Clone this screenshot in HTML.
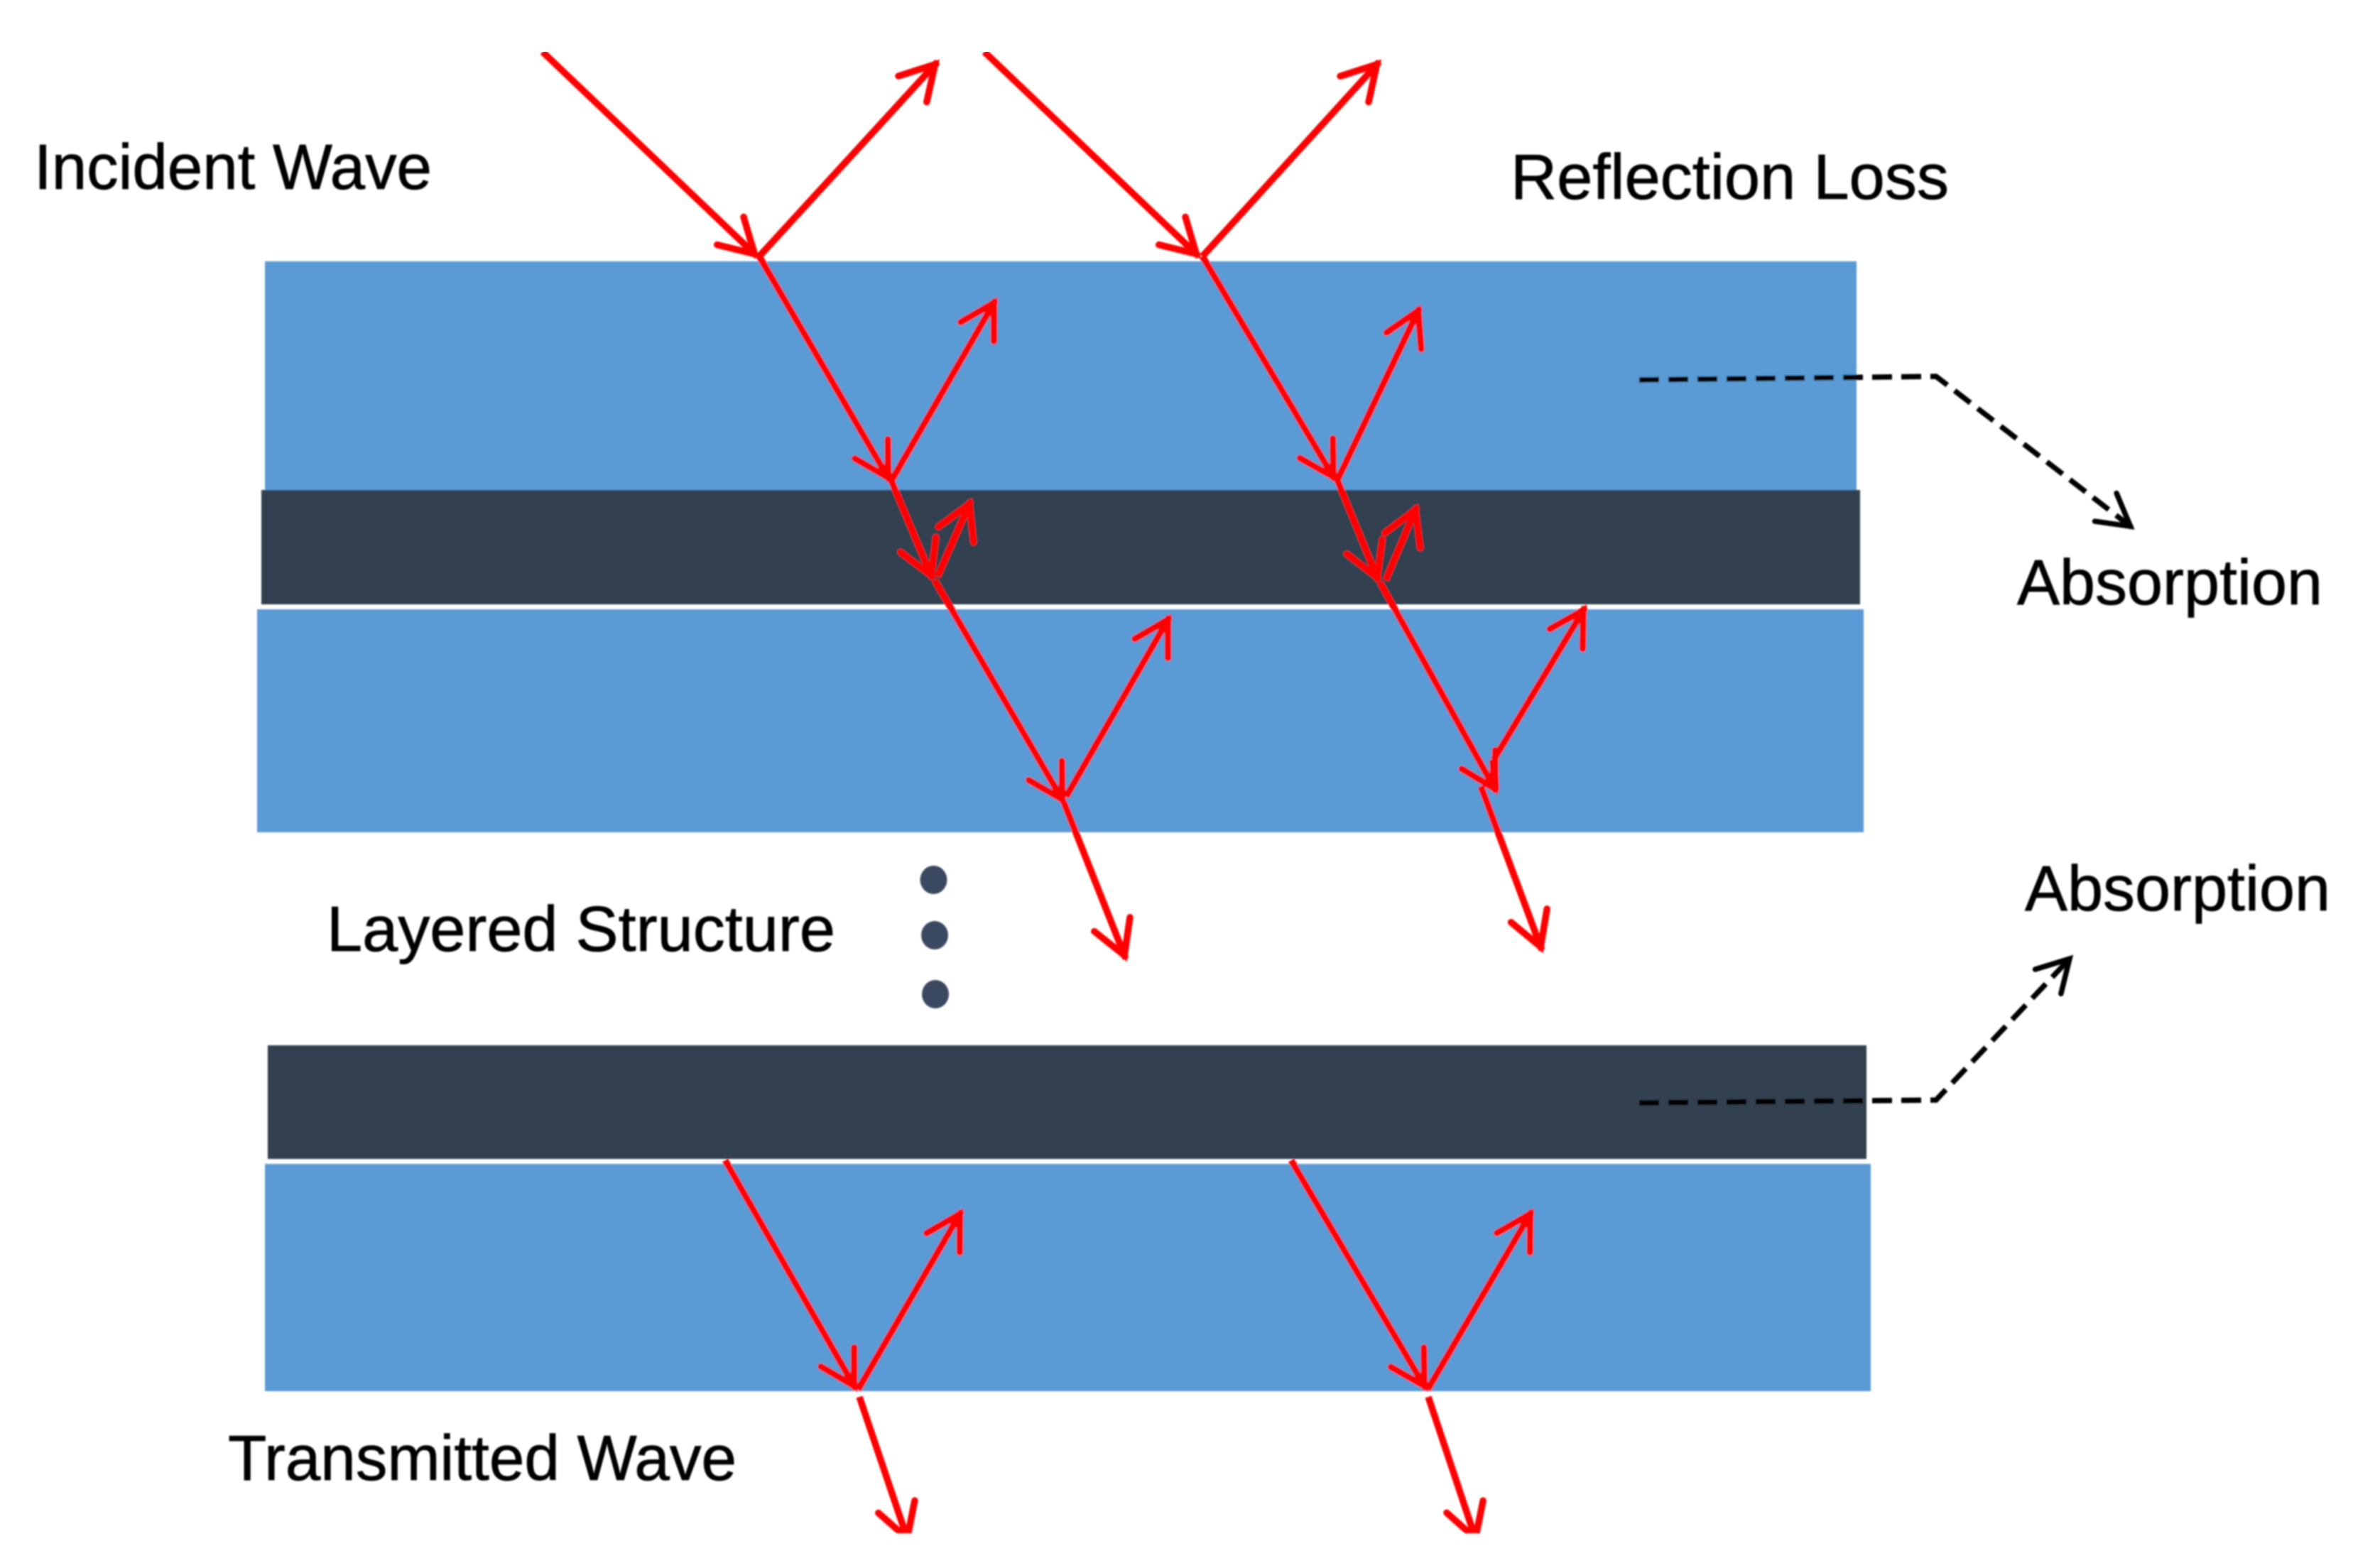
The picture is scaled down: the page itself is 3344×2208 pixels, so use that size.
<!DOCTYPE html>
<html>
<head>
<meta charset="utf-8">
<style>
html,body{margin:0;padding:0;background:#fff;width:3344px;height:2208px;overflow:hidden}
svg{display:block}
text{font-family:"Liberation Sans",Arial,sans-serif;font-size:90px;fill:#000;stroke:#000;stroke-width:.8}
.r{stroke:#fe0000;stroke-width:9.5;fill:none;marker-end:url(#ar)}
.n{stroke:#fe0000;stroke-width:12;fill:none}
.d{stroke:#000;stroke-width:7.5;fill:none;stroke-dasharray:28 13}
</style>
</head>
<body>
<svg width="3344" height="2208" viewBox="0 0 3344 2208" xmlns="http://www.w3.org/2000/svg">
<defs>
<marker id="ar" markerUnits="userSpaceOnUse" viewBox="-70 -45 85 90" refX="5" refY="0" markerWidth="85" markerHeight="90" orient="auto">
<path d="M-47,-27 L0,0 L-47,27" fill="none" stroke="#fe0000" stroke-width="9.5" stroke-linecap="round" stroke-linejoin="miter"/>
</marker>
<marker id="ab" markerUnits="userSpaceOnUse" viewBox="-70 -45 85 90" refX="3" refY="0" markerWidth="85" markerHeight="90" orient="auto">
<path d="M-44,-25 L0,0 L-44,25" fill="none" stroke="#000" stroke-width="7.5" stroke-linecap="round"/>
</marker>
<filter id="s" x="0" y="0" width="100%" height="100%"><feGaussianBlur stdDeviation="1.1"/></filter>
</defs>
<rect width="3344" height="2208" fill="#fff"/>
<g filter="url(#s)">
<!-- layers -->
<rect x="373" y="368" width="2241" height="322" fill="#5a9ad5"/>
<rect x="368" y="690" width="2251" height="161" fill="#333f50"/>
<rect x="362" y="858" width="2262" height="314" fill="#5a9ad5"/>
<rect x="377" y="1472" width="2251" height="160" fill="#333f50"/>
<rect x="373" y="1639" width="2261" height="320" fill="#5a9ad5"/>
<!-- dots -->
<ellipse cx="1314.5" cy="1239" rx="19" ry="20" fill="#3b4a60"/>
<ellipse cx="1316" cy="1317" rx="19" ry="20" fill="#3b4a60"/>
<ellipse cx="1317" cy="1400" rx="19" ry="20" fill="#3b4a60"/>
<!-- column 1 -->
<line class="r" x1="764" y1="73" x2="1066" y2="361"/>
<line class="r" x1="1069" y1="361" x2="1320" y2="87"/>
<line class="r" x1="1069" y1="361" x2="1253" y2="677"/>
<line class="r" x1="1255" y1="677" x2="1402" y2="422"/>
<line class="r" x1="1255" y1="677" x2="1313" y2="815"/>
<line class="r" x1="1320" y1="812" x2="1367" y2="705"/>
<line class="r" x1="1316" y1="817" x2="1498" y2="1130"/>
<line class="r" x1="1501" y1="1122" x2="1647" y2="868"/>
<line class="r" x1="1498" y1="1130" x2="1585" y2="1350"/>
<!-- column 2 -->
<line class="r" x1="1386" y1="73" x2="1688" y2="361"/>
<line class="r" x1="1693" y1="361" x2="1942" y2="87"/>
<line class="r" x1="1693" y1="361" x2="1880" y2="676"/>
<line class="r" x1="1883" y1="676" x2="1999" y2="433"/>
<line class="r" x1="1883" y1="676" x2="1941" y2="818"/>
<line class="r" x1="1951" y1="817" x2="1995" y2="713"/>
<line class="r" x1="1943" y1="820" x2="2107" y2="1115"/>
<line class="n" x1="2103" y1="1070" x2="2105" y2="1112"/>
<line class="r" x1="2103" y1="1070" x2="2232" y2="855"/>
<line class="r" x1="2085" y1="1107" x2="2171" y2="1338"/>
<!-- bottom layer -->
<line class="r" x1="1021" y1="1634" x2="1205" y2="1956"/>
<line class="r" x1="1208" y1="1957" x2="1354" y2="1705"/>
<line class="r" x1="1210" y1="1967" x2="1279" y2="2171"/>
<line class="r" x1="1818" y1="1634" x2="2008" y2="1956"/>
<line class="r" x1="2010" y1="1957" x2="2157" y2="1705"/>
<line class="r" x1="2011" y1="1967" x2="2079" y2="2171"/>
<rect x="1100" y="2160" width="1100" height="48" fill="#fff"/>
<!-- dashed -->
<polyline class="d" points="2308,535 2726,530 3002,743" marker-end="url(#ab)"/>
<polyline class="d" points="2308,1553 2726,1549 2916,1348" marker-end="url(#ab)"/>
<!-- labels -->
<text x="48" y="266" textLength="560" lengthAdjust="spacingAndGlyphs">Incident Wave</text>
<text x="2127" y="280" textLength="617" lengthAdjust="spacingAndGlyphs">Reflection Loss</text>
<text x="2840" y="851" textLength="430" lengthAdjust="spacingAndGlyphs">Absorption</text>
<text x="2851" y="1282" textLength="430" lengthAdjust="spacingAndGlyphs">Absorption</text>
<text x="460" y="1339" textLength="716" lengthAdjust="spacingAndGlyphs">Layered Structure</text>
<text x="321" y="2084" textLength="716" lengthAdjust="spacingAndGlyphs">Transmitted Wave</text>
</g>
</svg>
</body>
</html>
